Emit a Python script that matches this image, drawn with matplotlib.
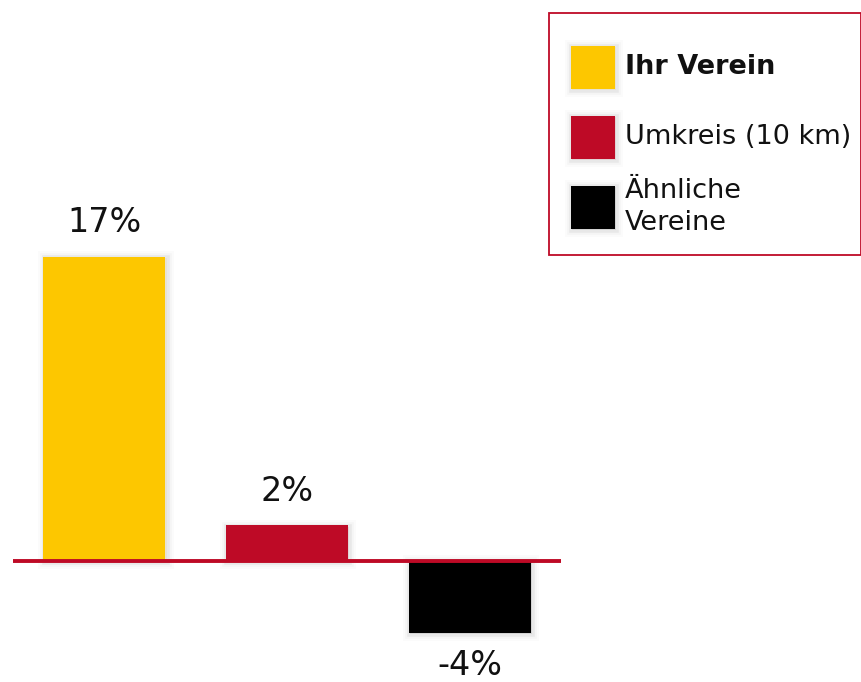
import matplotlib
matplotlib.use("Agg")
import matplotlib.pyplot as plt
import matplotlib.patheffects as pe
from matplotlib.patches import Rectangle

# ── Data ─────────────────────────────────────────────────────────────────────
categories = ["Ihr Verein", "Umkreis (10 km)", "Ähnliche\nVereine"]
values     = [17, 2, -4]
labels     = ["17%", "2%", "-4%"]
colors     = ["#FDC700", "#BE0A26", "#000000"]
bold       = [True, False, False]

CRIMSON = "#BE0A26"
W, H = 862, 682


def shadow():
    # soft blurred glow around the boxes, slightly shifted down-right
    return [pe.Stroke(linewidth=10, foreground="#000000", alpha=0.015, offset=(1, -1)),
            pe.Stroke(linewidth=7, foreground="#000000", alpha=0.025, offset=(1, -1)),
            pe.Stroke(linewidth=4, foreground="#000000", alpha=0.05, offset=(1, -1)),
            pe.Normal()]


plt.rcParams["font.family"] = ["DejaVu Sans"]
fig = plt.figure(figsize=(W / 100, H / 100), dpi=100)

# axes in pixel terms: x 13..561, full height; zero line at y=561
px_per_unit = 17.9
ax = fig.add_axes([13 / W, 0, (561 - 13) / W, 1])
ax.set_xlim(-0.5, 2.5)
ax.set_ylim(-(H - 561) / px_per_unit, 561 / px_per_unit)
ax.axis("off")

x = list(range(len(values)))
bars = ax.bar(x, values, width=0.667, color=colors, zorder=2)
for b in bars:
    b.set_path_effects(shadow())

ax.axhline(0, color=CRIMSON, linewidth=2.8, zorder=3)

for xi, v, lab in zip(x, values, labels):
    off = 34 if v >= 0 else -33
    ax.annotate(lab, (xi, v), textcoords="offset pixels", xytext=(0, off),
                ha="center", va="center", fontsize=24, color="#111111")

# ── Legend (drawn by hand) ───────────────────────────────────────────────────
box = Rectangle((549 / W, 1 - 255 / H), (861 - 549) / W, (255 - 13) / H,
                transform=fig.transFigure, facecolor="white",
                edgecolor=CRIMSON, linewidth=1.3)
fig.patches.append(box)

rows_y = [67, 137, 207]
for cy, cat, col, b in zip(rows_y, categories, colors, bold):
    sq = Rectangle((571 / W, 1 - (cy + 22) / H), 44 / W, 43 / H,
                   transform=fig.transFigure, facecolor=col, edgecolor="none")
    sq.set_path_effects(shadow())
    fig.patches.append(sq)
    fig.text(625 / W, 1 - cy / H, cat, ha="left", va="center",
             fontsize=19.5, fontweight="bold" if b else "normal",
             color="#111111", linespacing=1.3)

fig.savefig("out.png", dpi=100)
